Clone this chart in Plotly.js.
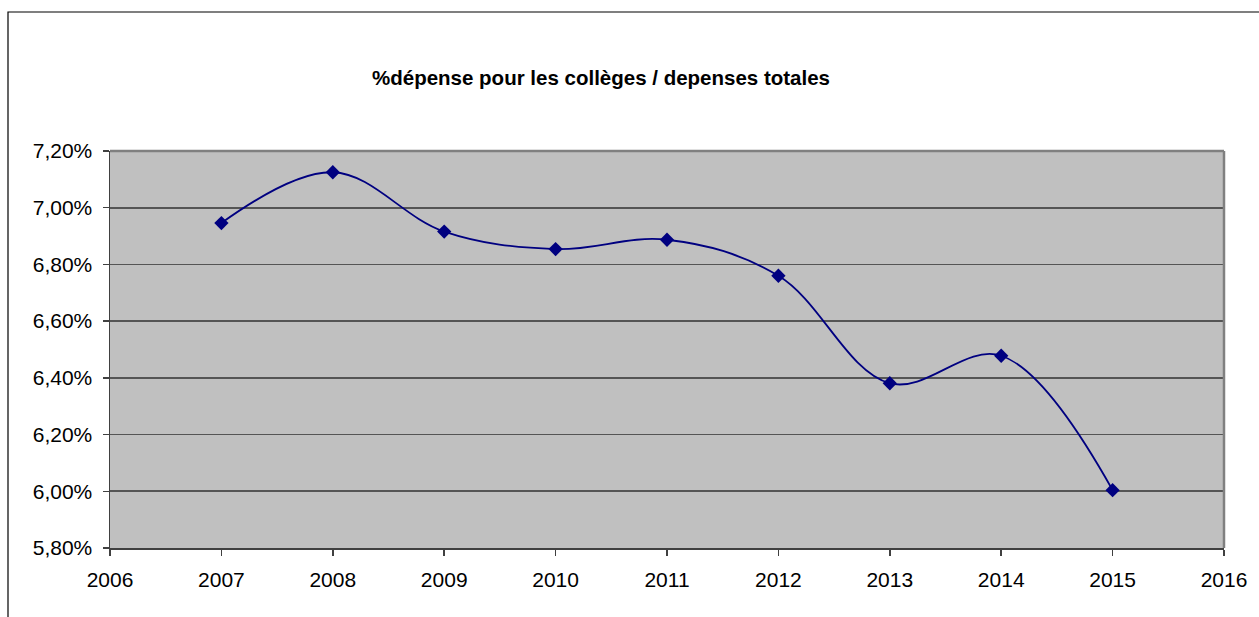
<!DOCTYPE html>
<html>
<head>
<meta charset="utf-8">
<script src="https://cdn.plot.ly/plotly-3.0.1.min.js"></script>
<style>html,body{margin:0;padding:0;background:#fff}#chart{width:1259px;height:617px}</style>
</head>
<body>
<div id="chart"></div>
<script>
const years = [2007, 2008, 2009, 2010, 2011, 2012, 2013, 2014, 2015];
const ratio = [0.06946, 0.07125, 0.06916, 0.06854, 0.06887, 0.06760, 0.06381, 0.06478, 0.06004];
const yTicks = [0.058, 0.060, 0.062, 0.064, 0.066, 0.068, 0.070, 0.072];
const yTickText = ["5,80%", "6,00%", "6,20%", "6,40%", "6,60%", "6,80%", "7,00%", "7,20%"];
const xTicks = [2006, 2007, 2008, 2009, 2010, 2011, 2012, 2013, 2014, 2015, 2016];

const W = 1259, H = 617;
const L = 110, R = 1224, T = 151, B = 548;
const pw = R - L, ph = B - T;
const px = v => (v - L) / pw;
const py = v => (B - v) / ph;

const trace = {
  x: years, y: ratio, type: 'scatter', mode: 'lines+markers',
  line: {color: '#000080', width: 1.8, shape: 'spline', smoothing: 1.05},
  marker: {symbol: 'diamond', size: 11, color: '#000080'},
  hoverinfo: 'x+y'
};

const layout = {
  width: W, height: H,
  margin: {l: L, r: W - R, t: T, b: H - B, pad: 0},
  paper_bgcolor: '#ffffff', plot_bgcolor: '#c0c0c0',
  font: {family: 'Liberation Sans, Arial, sans-serif', size: 21, color: '#000'},
  showlegend: false,
  title: {text: '<b>%dépense pour les collèges / depenses totales</b>',
    font: {size: 20.5, family: 'Liberation Sans, Arial, sans-serif', color: '#000'},
    xref: 'paper', x: px(601), xanchor: 'center', yref: 'container', y: 1 - 78 / H, yanchor: 'middle'},
  xaxis: {range: [2006, 2016], tickvals: xTicks, ticktext: xTicks.map(String),
    showgrid: false, zeroline: false, showline: true, linecolor: '#404040', linewidth: 1.5,
    ticks: 'outside', ticklen: 6, tickcolor: '#404040', tickwidth: 1.5,
    ticklabelstandoff: 6,
    tickfont: {size: 21}, fixedrange: true},
  yaxis: {range: [0.058, 0.072], tickvals: yTicks, ticktext: yTickText,
    showgrid: true, gridcolor: '#555555', gridwidth: 1.7, zeroline: false,
    showline: true, linecolor: '#404040', linewidth: 1.5,
    ticks: 'outside', ticklen: 6, tickcolor: '#404040', tickwidth: 1.5,
    ticklabelstandoff: 6,
    tickfont: {size: 21}, fixedrange: true},
  shapes: [
    {type: 'rect', xref: 'paper', yref: 'paper', x0: px(8), x1: px(1300), y0: py(640), y1: py(12),
      line: {color: '#000', width: 1.2}, fillcolor: 'rgba(0,0,0,0)', layer: 'below'},
    {type: 'line', xref: 'paper', yref: 'paper', x0: 0, x1: 1, y0: 1, y1: 1,
      line: {color: '#808080', width: 2.5}},
    {type: 'line', xref: 'paper', yref: 'paper', x0: 1, x1: 1, y0: 0, y1: 1,
      line: {color: '#808080', width: 2.5}}
  ]
};

Plotly.newPlot('chart', [trace], layout, {displayModeBar: false, staticPlot: true});
</script>
</body>
</html>
